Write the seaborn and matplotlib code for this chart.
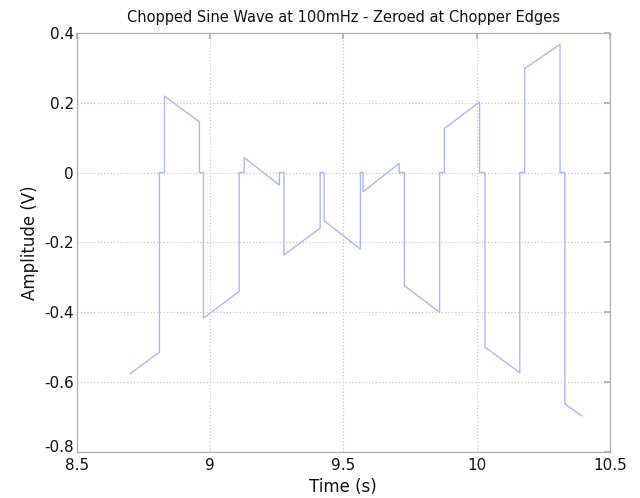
import numpy as np
import pandas as pd
import seaborn as sns
import matplotlib
matplotlib.use("Agg")
import matplotlib.pyplot as plt
import matplotlib.transforms as mtransforms

time_s = [8.700, 8.810, 8.810, 8.829, 8.829, 8.960, 8.960, 8.975, 8.975, 9.109,
          9.109, 9.128, 9.128, 9.260, 9.260, 9.277, 9.277, 9.413, 9.413, 9.428,
          9.428, 9.564, 9.564, 9.574, 9.574, 9.709, 9.709, 9.729, 9.729, 9.861,
          9.861, 9.879, 9.879, 10.011, 10.011, 10.031, 10.031, 10.162, 10.162, 10.180,
          10.180, 10.313, 10.313, 10.331, 10.331, 10.394]
amplitude_v = [-0.576, -0.514, 0.0, 0.0, 0.219, 0.145, 0.0, 0.0, -0.417, -0.340,
               0.0, 0.0, 0.043, -0.036, 0.0, 0.0, -0.236, -0.159, 0.0, 0.0,
               -0.138, -0.219, 0.0, 0.0, -0.055, 0.026, 0.0, 0.0, -0.324, -0.400,
               0.0, 0.0, 0.126, 0.202, 0.0, 0.0, -0.500, -0.573, 0.0, 0.0,
               0.298, 0.367, 0.0, 0.0, -0.662, -0.697]
x_ticks = [8.5, 9, 9.5, 10, 10.5]
x_tick_labels = ["8.5", "9", "9.5", "10", "10.5"]
y_ticks = [-0.8, -0.6, -0.4, -0.2, 0, 0.2, 0.4]
y_tick_labels = ["-0.8", "-0.6", "-0.4", "-0.2", "0", "0.2", "0.4"]

df = pd.DataFrame({"t": time_s, "v": amplitude_v, "i": range(len(time_s))})

sns.set_theme(style="white")
plt.rcParams['font.family'] = ['DejaVu Sans']

fig = plt.figure(figsize=(6.4, 4.98), dpi=100)
ax = fig.add_axes([0.120, 0.0924, 0.833, 0.8416])

sns.lineplot(data=df, x="t", y="v", sort=False, estimator=None, ax=ax,
             color="#b0b4ff", linewidth=1.0)

ax.set_xlim(8.5, 10.5)
ax.set_ylim(-0.8, 0.4)
ax.set_xticks(x_ticks)
ax.set_xticklabels(x_tick_labels)
ax.set_yticks(y_ticks)
ax.set_yticklabels(y_tick_labels)
ax.grid(True, linestyle=":", color="#c8c8c8", linewidth=0.9)
for s in ax.spines.values():
    s.set_color("#b0b0b0")
    s.set_linewidth(0.9)
ax.tick_params(direction="in", length=4, color="#b0b0b0", top=True, right=True,
               labelsize=11, pad=2, labelcolor="#111111")
ax.tick_params(axis="x", pad=4)
# nudge the lowest y label up a little, as in the reference
lbl = ax.get_yticklabels()[0]
lbl.set_transform(lbl.get_transform() + mtransforms.ScaledTranslation(0, 4/72, fig.dpi_scale_trans))
ax.set_xlabel("Time (s)", fontsize=12, color="#111111", labelpad=4)
ax.set_ylabel("Amplitude (V)", fontsize=12, color="#111111", labelpad=4)
ax.set_title("Chopped Sine Wave at 100mHz - Zeroed at Chopper Edges", fontsize=10.5,
             color="#111111", pad=8)

fig.savefig("out.png", dpi=100)
